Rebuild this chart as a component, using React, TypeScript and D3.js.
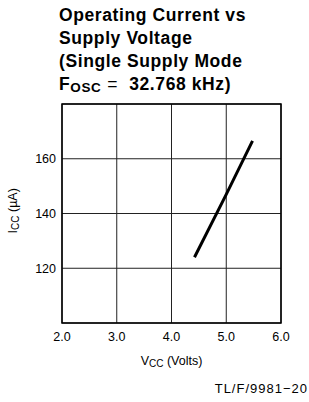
import * as d3 from 'd3';

const WIDTH = 309;
const HEIGHT = 402;
const MARGIN = { top: 104, right: 28, bottom: 79, left: 62 };

// curve
const vccValues = [4.42, 5.0, 5.48];
const iccValues = [124, 147, 166.5];

const xTicks = [2, 3, 4, 5, 6];
const yGrid = [100, 120, 140, 160, 180];
const yTickLabels = [120, 140, 160];

const titleLines = ['Operating Current vs', 'Supply Voltage', '(Single Supply Mode'];

const FONT = "'Liberation Sans', Arial, sans-serif";

export default function App() {
  const innerW = WIDTH - MARGIN.left - MARGIN.right;
  const innerH = HEIGHT - MARGIN.top - MARGIN.bottom;

  const x = d3.scaleLinear().domain([2, 6]).range([MARGIN.left, MARGIN.left + innerW]);
  const y = d3.scaleLinear().domain([100, 180]).range([MARGIN.top + innerH, MARGIN.top]);

  const points: [number, number][] = vccValues.map((v, i) => [v, iccValues[i]]);
  const line = d3
    .line<[number, number]>()
    .x((d) => x(d[0]))
    .y((d) => y(d[1]));

  return (
    <svg
      width={WIDTH}
      height={HEIGHT}
      style={{ position: 'absolute', left: 0, top: 0, background: '#fff' }}
    >
      {/* title */}
      <g fontFamily={FONT} fontWeight="bold" fontSize={17.5} letterSpacing={0.6} fill="#000">
        {titleLines.map((t, i) => (
          <text key={i} x={59} y={21 + i * 22.8}>
            {t}
          </text>
        ))}
        <text x={59} y={89.5}>
          F<tspan fontSize={13.5} dy={2.5}>OSC</tspan>
          <tspan dy={-2.5} dx={6} fontWeight="normal">=</tspan>
          <tspan dx={11}>32.768 kHz)</tspan>
        </text>
      </g>

      {/* grid */}
      <g stroke="#222" strokeWidth={1}>
        {xTicks.map((t) => (
          <line key={'x' + t} x1={x(t)} x2={x(t)} y1={y(180)} y2={y(100)} />
        ))}
        {yGrid.map((t) => (
          <line key={'y' + t} x1={x(2)} x2={x(6)} y1={y(t)} y2={y(t)} />
        ))}
      </g>
      <rect
        x={x(2)}
        y={y(180)}
        width={x(6) - x(2)}
        height={y(100) - y(180)}
        fill="none"
        stroke="#000"
        strokeWidth={1.5}
      />

      {/* curve */}
      <path d={line(points)!} fill="none" stroke="#000" strokeWidth={3} />

      {/* y tick labels */}
      <g fontFamily={FONT} fontSize={12.5} fill="#000" textAnchor="end">
        {yTickLabels.map((t) => (
          <text key={t} x={56} y={y(t) + 4.5}>
            {t}
          </text>
        ))}
      </g>

      {/* x tick labels */}
      <g fontFamily={FONT} fontSize={12.5} fill="#000" textAnchor="middle">
        {xTicks.map((t) => (
          <text key={t} x={x(t)} y={341}>
            {t.toFixed(1)}
          </text>
        ))}
      </g>

      {/* axis titles */}
      <text
        fontFamily={FONT}
        fontSize={12.5}
        textAnchor="middle"
        transform={`translate(17, ${y(141)}) rotate(-90)`}
      >
        I<tspan fontSize={10} dy={2}>CC</tspan>
        <tspan dy={-2}> (µA)</tspan>
      </text>
      <text fontFamily={FONT} fontSize={12.5} textAnchor="middle" x={x(4)} y={365}>
        V<tspan fontSize={10} dy={2}>CC</tspan>
        <tspan dy={-2}> (Volts)</tspan>
      </text>

      <text
        fontFamily={FONT}
        fontSize={13}
        letterSpacing={1}
        textAnchor="end"
        x={308}
        y={393}
      >
        TL/F/9981−20
      </text>
    </svg>
  );
}
